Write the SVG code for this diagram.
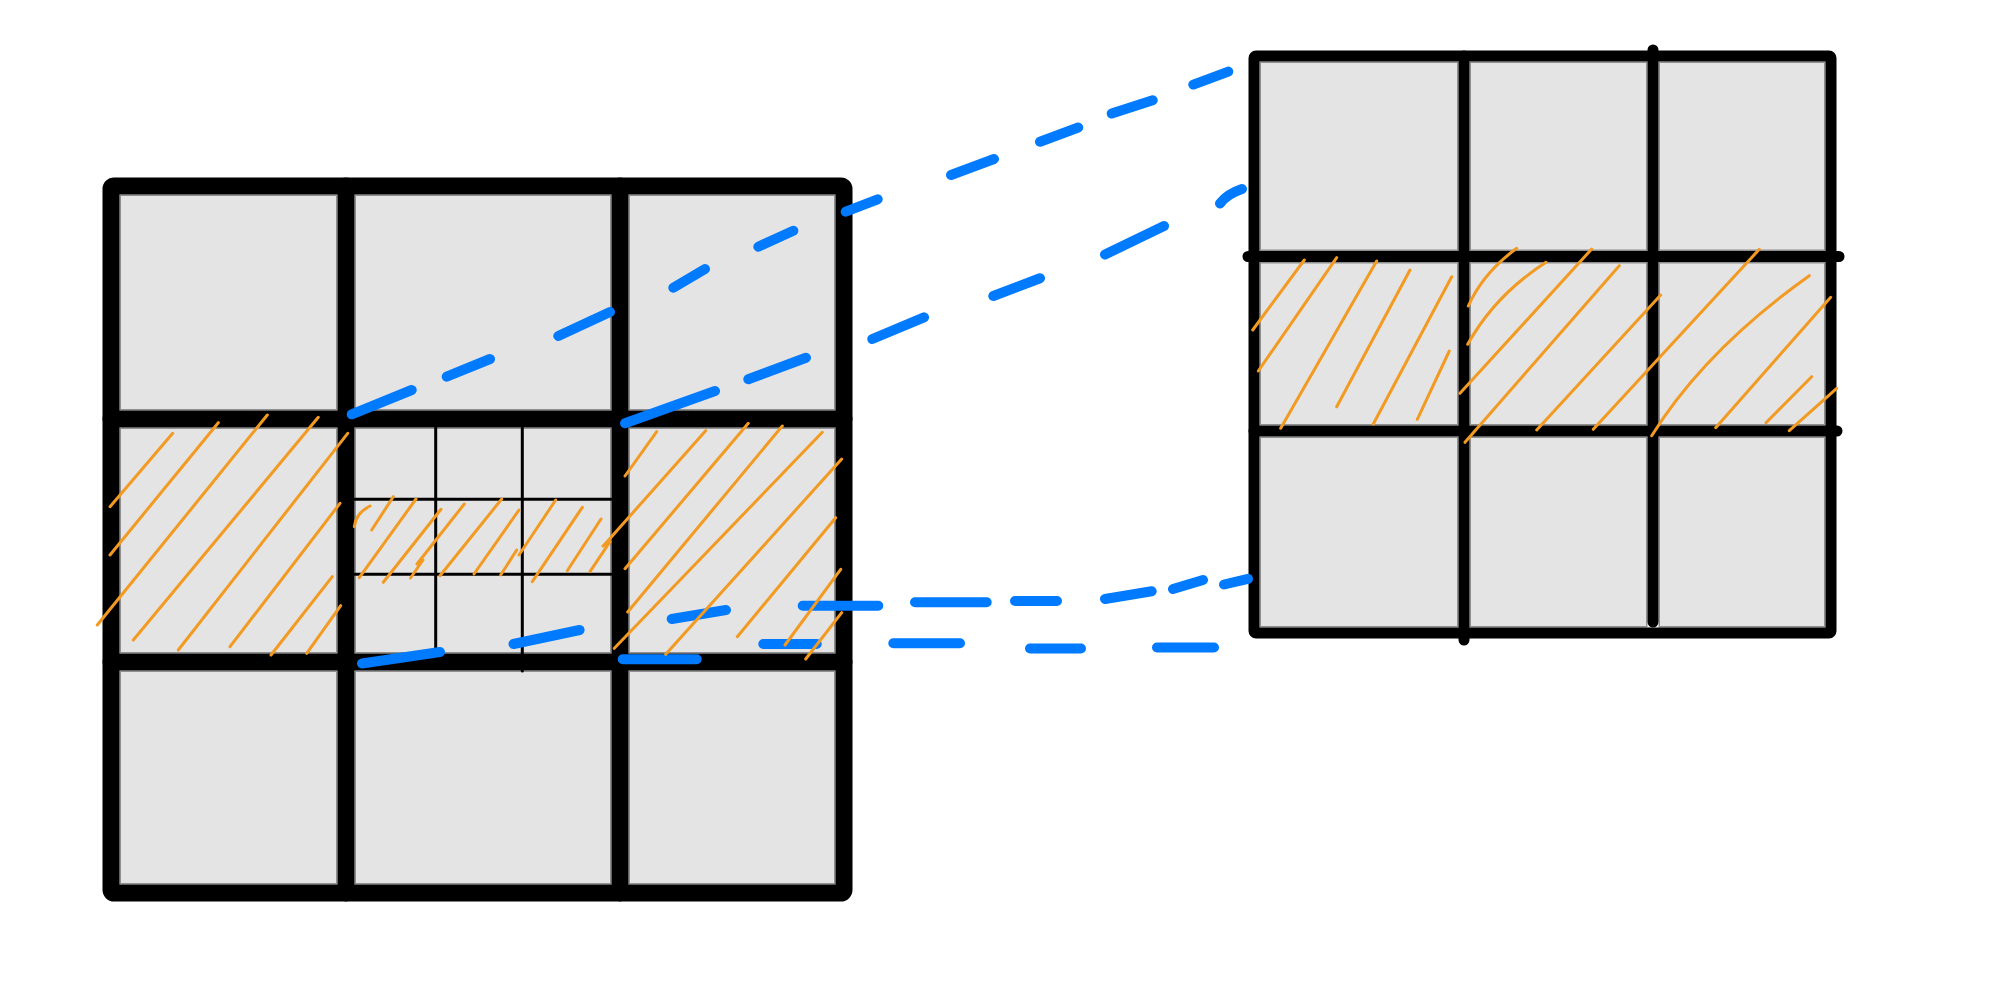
<svg xmlns="http://www.w3.org/2000/svg" width="1993" height="1000" viewBox="0 0 1993 1000">
<style>
.cell{fill:#e4e4e4;stroke:#8f8f8f;stroke-width:1.5}
.thick{fill:none;stroke:#000;stroke-width:17;stroke-linecap:round;stroke-linejoin:round}
.med{fill:none;stroke:#000;stroke-width:11;stroke-linecap:round;stroke-linejoin:round}
.thin{fill:none;stroke:#000;stroke-width:3;stroke-linecap:round}
.dash{fill:none;stroke:#007aff;stroke-width:10;stroke-linecap:round}
.hatch{fill:none;stroke:#f29a21;stroke-width:3;stroke-linecap:round}
</style>
<rect width="1993" height="1000" fill="#fff"/>
<g id="left-grid">
<rect class="cell" x="120.25" y="195.25" width="216.5" height="214.5"/>
<rect class="cell" x="355.25" y="195.25" width="255.5" height="214.5"/>
<rect class="cell" x="629.25" y="195.25" width="205.5" height="214.5"/>
<rect class="cell" x="120.25" y="428.25" width="216.5" height="224.5"/>
<rect class="cell" x="355.25" y="428.25" width="255.5" height="224.5"/>
<rect class="cell" x="629.25" y="428.25" width="205.5" height="224.5"/>
<rect class="cell" x="120.25" y="671.25" width="216.5" height="212.5"/>
<rect class="cell" x="355.25" y="671.25" width="255.5" height="212.5"/>
<rect class="cell" x="629.25" y="671.25" width="205.5" height="212.5"/>
<path class="thin" d="M435.7,428 V653 M522.3,428 V671 M355,499.3 H611 M355,574.3 H611"/>
<rect class="thick" x="111" y="186" width="733" height="707" rx="3"/>
<path class="thick" d="M346,186 V893 M620,186 V893 M111,419 H844 M111,662 H844"/>
</g>
<g id="right-grid">
<rect class="cell" x="1260.25" y="62.25" width="197.5" height="188"/>
<rect class="cell" x="1470.25" y="62.25" width="176.5" height="188"/>
<rect class="cell" x="1659.25" y="62.25" width="165.5" height="188"/>
<rect class="cell" x="1260.25" y="262.75" width="197.5" height="162"/>
<rect class="cell" x="1470.25" y="262.75" width="176.5" height="162"/>
<rect class="cell" x="1659.25" y="262.75" width="165.5" height="162"/>
<rect class="cell" x="1260.25" y="437.25" width="197.5" height="189.5"/>
<rect class="cell" x="1470.25" y="437.25" width="176.5" height="189.5"/>
<rect class="cell" x="1659.25" y="437.25" width="165.5" height="189.5"/>
<rect class="med" x="1254" y="56" width="577" height="577" rx="2"/>
<path class="med" d="M1464,56 V640 M1653,50 V622 M1248,256.5 H1839 M1254,431 H1837"/>
</g>
<g id="connectors">
<path class="dash" d="M351.7,414.3 L411.7,390 M446.7,376.7 L490,359 M558.3,336 L610,312 M673.3,287.7 L705,269 M758.3,246.7 L793.3,230.7 M845.7,211.7 L877.7,199.3 M951,175 L994,159 M1040,141.8 L1078.3,127.5 M1111.7,113.6 L1152.7,100.2 M1193.3,84.6 L1228.3,71.6"/>
<path class="dash" d="M625,423.3 L715,391 M748.3,379.3 L806,357.7 M872.3,339 L924,317.3 M993.3,296 L1040,278.3 M1105,254.5 L1164,226 M1220,203.5 Q1227,194 1242,189"/>
<path class="dash" d="M362,663.5 L440,652 M513.5,644 L579.6,630 M671.7,619 L726,610 M802.7,605.7 L878.3,605.7 M915,602.3 L986.7,602.3 M1015,601 L1057,601 M1105,599 L1151.7,591.3 M1173,589 L1203,580 M1224,584.5 L1248,578.8"/>
<path class="dash" d="M622.7,659.3 L696.7,659.3 M763.3,644 L816.7,644 M893.3,643.3 L960,643.3 M1030,648.5 L1081,648.5 M1157,647.5 L1214,647.5"/>
</g>
<g id="hatching">
<path class="hatch" d="M110,506.7 L172.7,433.3 M110,555 L218.3,422.7 M97.3,625 L267.3,415 M133.3,640 L318.3,417.3 M178.3,650 L347.7,433.3 M230,646.7 L340,503.3 M271,655 L332.3,576.7 M306.7,653.3 L340.7,605.7"/>
<path class="hatch" d="M354.3,526.7 Q356,513 370,506 M371.7,530 L393.3,496.7 M359.3,577.7 L416,499 M383.3,582.3 L441,509.3 M410.5,578 L423,560 M417,564 L464.3,504 M440,575.7 L501.7,499 M474,574 L519,510 M500.7,575 L516.7,550 M519,555 L555.7,500 M532.3,581.7 L582.3,507.3 M567.3,570.7 L601,519 M590,571.7 L610,541.7"/>
<path class="hatch" d="M625,476 L656.7,431.7 M603.3,546 L705.7,430.7 M603,546 L609,541 M625,568.7 L748.3,423.3 M627.7,612 L782.3,426 M614.3,648.3 L822.3,432.3 M665.7,654.3 L841.7,459 M737.3,636.7 L835.7,517.7 M785,645 L840.7,569.3 M805.7,659 L841.7,612.7"/>
<path class="hatch" d="M1252.7,330 L1304.3,260 M1258.3,371 L1336.7,257.7 M1280.7,428.3 L1376.7,261 M1336.7,406.7 L1410,270 M1373.3,424 L1451.7,276.7 M1417.3,419.3 L1449.3,351"/>
<path class="hatch" d="M1468.3,306 Q1483,273 1516.7,248.3 M1467.7,344.3 Q1495,295 1546,262.3 M1460,393.3 L1591.7,249 M1465,442.3 L1619.3,265.7 M1536.7,430 L1660.7,295 M1593.3,429.3 L1759.3,249.3"/>
<path class="hatch" d="M1651.7,435.7 Q1705,350 1809.3,275.7 M1715.7,427.7 L1830.7,297.3 M1766,422.7 L1811.7,376.7 M1789.3,430.7 L1836.7,388.3"/>
</g>
</svg>
